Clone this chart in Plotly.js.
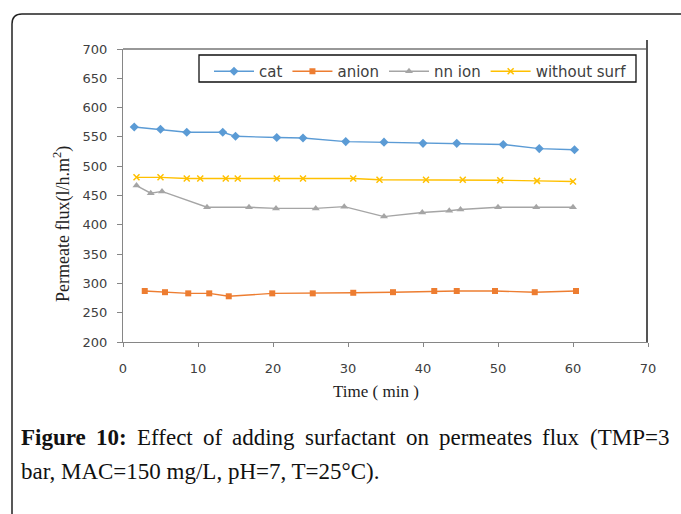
<!DOCTYPE html>
<html>
<head>
<meta charset="utf-8">
<script src="https://cdn.plot.ly/plotly-3.0.1.min.js"></script>
<style>
html,body{margin:0;padding:0;background:#fff;}
#chart{width:681px;height:514px;}
</style>
</head>
<body>
<div id="chart"></div>
<script>
// Data
const catTime = [1.5, 5, 8.5, 13.3, 15, 20.5, 24, 29.7, 34.8, 40, 44.5, 50.7, 55.5, 60.2];
const catFlux = [567, 563, 558, 558, 551, 549, 548, 542, 541, 539, 539, 537, 530, 528];

const anionTime = [2.9, 5.6, 8.7, 11.5, 14.1, 19.9, 25.3, 30.7, 36, 41.5, 44.5, 49.6, 54.9, 60.4];
const anionFlux = [287, 285, 283, 283, 278, 283, 283, 284, 285, 287, 287, 287, 285, 287];

const nnTime = [1.8, 3.7, 5.2, 11.2, 16.8, 20.4, 25.7, 29.5, 34.8, 39.9, 43.5, 45, 50, 55.1, 60];
const nnFlux = [467, 454, 457, 430, 430, 428, 428, 431, 414, 421, 424, 426, 430, 430, 430];

const woTime = [1.8, 5, 8.5, 10.3, 13.7, 15.3, 20.5, 24, 30.7, 34.2, 40.4, 45.3, 50.3, 55.2, 60];
const woFlux = [481, 481, 479, 479, 479, 479, 479, 479, 479, 477, 477, 477, 476, 475, 474];

const seriesNames = ['cat', 'anion', 'nn ion', 'without surf'];
const xTicks = [0, 10, 20, 30, 40, 50, 60, 70];
const yTicks = [200, 250, 300, 350, 400, 450, 500, 550, 600, 650, 700];

const xTitle = 'Time ( min )';
const yTitle = 'Permeate flux(l/h.m<sup>2</sup>)';
const captionLine1Bold = ['Figure', '10:'];
const captionLine1 = ['Effect', 'of', 'adding', 'surfactant', 'on', 'permeates', 'flux', '(TMP=3'];
const captionLine2 = 'bar, MAC=150 mg/L, pH=7, T=25°C).';

const colors = ['#5B9BD5', '#ED7D31', '#A5A5A5', '#FFC000'];

function tr(x, y, name, color, symbol, size) {
  return {
    x: x, y: y, name: name, type: 'scatter', mode: 'lines+markers',
    line: {color: color, width: 1.4},
    marker: {color: color, symbol: symbol, size: size, line: {color: color, width: symbol === 'x-thin' ? 1.5 : 0}}
  };
}

const data = [
  tr(catTime, catFlux, seriesNames[0], colors[0], 'diamond', 7),
  tr(anionTime, anionFlux, seriesNames[1], colors[1], 'square', 6),
  tr(nnTime, nnFlux, seriesNames[2], colors[2], 'triangle-up', 7),
  tr(woTime, woFlux, seriesNames[3], colors[3], 'x-thin', 6)
];

const L = 123, R = 33, T = 49, B = 172;
const W = 681 - L - R, H = 514 - T - B;
function px(x) { return (x - L) / W; }
function py(y) { return (514 - B - y) / H; }

const rx = 10 / W, ry = 10 / H;
const fx0 = px(12), fy0 = py(14), fx1 = px(700), fy1 = py(530);
const framePath = 'M' + fx0 + ',' + fy1 + ' L' + fx0 + ',' + (fy0 - ry) +
  ' Q' + fx0 + ',' + fy0 + ' ' + (fx0 + rx) + ',' + fy0 + ' L' + fx1 + ',' + fy0;

// caption layout: justify first line between left and right edges
const capFont = 'Liberation Serif';
const capSize = 23;
const capLeft = 20, capRight = 668;
const cv = document.createElement('canvas').getContext('2d');
function measure(t, bold) {
  cv.font = (bold ? 'bold ' : '') + capSize + 'px "' + capFont + '"';
  return cv.measureText(t).width;
}
const words = captionLine1Bold.map(w => ({t: w, b: true})).concat(captionLine1.map(w => ({t: w, b: false})));
const totalW = words.reduce((s, w) => s + measure(w.t, w.b), 0);
const gap = (capRight - capLeft - totalW) / (words.length - 1);
const capAnn = [];
let cx = capLeft;
words.forEach(w => {
  capAnn.push({text: w.b ? '<b>' + w.t + '</b>' : w.t, xref: 'paper', yref: 'paper', x: px(cx), y: py(437),
    xanchor: 'left', yanchor: 'middle', showarrow: false, xshift: -1,
    font: {family: capFont, size: capSize, color: '#111'}});
  cx += measure(w.t, w.b) + gap;
});
capAnn.push({text: captionLine2, xref: 'paper', yref: 'paper', x: px(capLeft), y: py(471),
  xanchor: 'left', yanchor: 'middle', showarrow: false, xshift: -1,
  font: {family: capFont, size: capSize, color: '#111'}});

const layout = {
  width: 681, height: 514,
  margin: {l: L, r: R, t: T, b: B},
  paper_bgcolor: '#fff', plot_bgcolor: '#fff',
  showlegend: true,
  legend: {
    orientation: 'h', x: px(209), y: py(55), xanchor: 'left', yanchor: 'top',
    borderwidth: 0, bgcolor: 'rgba(0,0,0,0)',
    font: {family: 'DejaVu Sans', size: 15, color: '#404040'},
    itemwidth: 40, tracegroupgap: 0
  },
  xaxis: {
    range: [0, 70], tickvals: xTicks, ticktext: xTicks.map(String),
    showgrid: false, zeroline: false, showline: true, linecolor: '#868686', linewidth: 1,
    ticks: 'outside', ticklen: 4, tickcolor: '#868686', ticklabelstandoff: 10,
    tickfont: {family: 'DejaVu Sans', size: 13, color: '#404040'},
    fixedrange: true
  },
  yaxis: {
    range: [200, 700], tickvals: yTicks, ticktext: yTicks.map(String),
    showgrid: false, zeroline: false, showline: true, linecolor: '#868686', linewidth: 1,
    ticks: 'outside', ticklen: 5, tickcolor: '#868686', ticklabelstandoff: 7,
    tickfont: {family: 'DejaVu Sans', size: 13, color: '#404040'},
    fixedrange: true
  },
  shapes: [
    {type: 'line', xref: 'paper', yref: 'paper', x0: 0, x1: 1, y0: 1, y1: 1, line: {color: '#333', width: 1.2}},
    {type: 'line', xref: 'paper', yref: 'paper', x0: px(647), x1: px(647), y0: 0, y1: py(40), line: {color: '#555', width: 2}},
    {type: 'rect', xref: 'paper', yref: 'paper', x0: px(199), x1: px(636), y0: py(55), y1: py(82),
      fillcolor: '#fff', line: {color: '#111', width: 1.3}},
    {type: 'path', xref: 'paper', yref: 'paper', path: framePath, line: {color: '#222', width: 1.5}}
  ],
  annotations: [
    {text: xTitle, xref: 'paper', yref: 'paper', x: px(376), y: py(391), xanchor: 'center', yanchor: 'middle',
      showarrow: false, font: {family: 'Liberation Serif', size: 17, color: '#222'}},
    {text: yTitle, xref: 'paper', yref: 'paper', x: px(62), y: py(224), xanchor: 'center', yanchor: 'middle',
      textangle: -90, showarrow: false, font: {family: 'Liberation Serif', size: 18, color: '#222'}}
  ].concat(capAnn)
};

Plotly.newPlot('chart', data, layout, {displayModeBar: false, staticPlot: true});
</script>
</body>
</html>
